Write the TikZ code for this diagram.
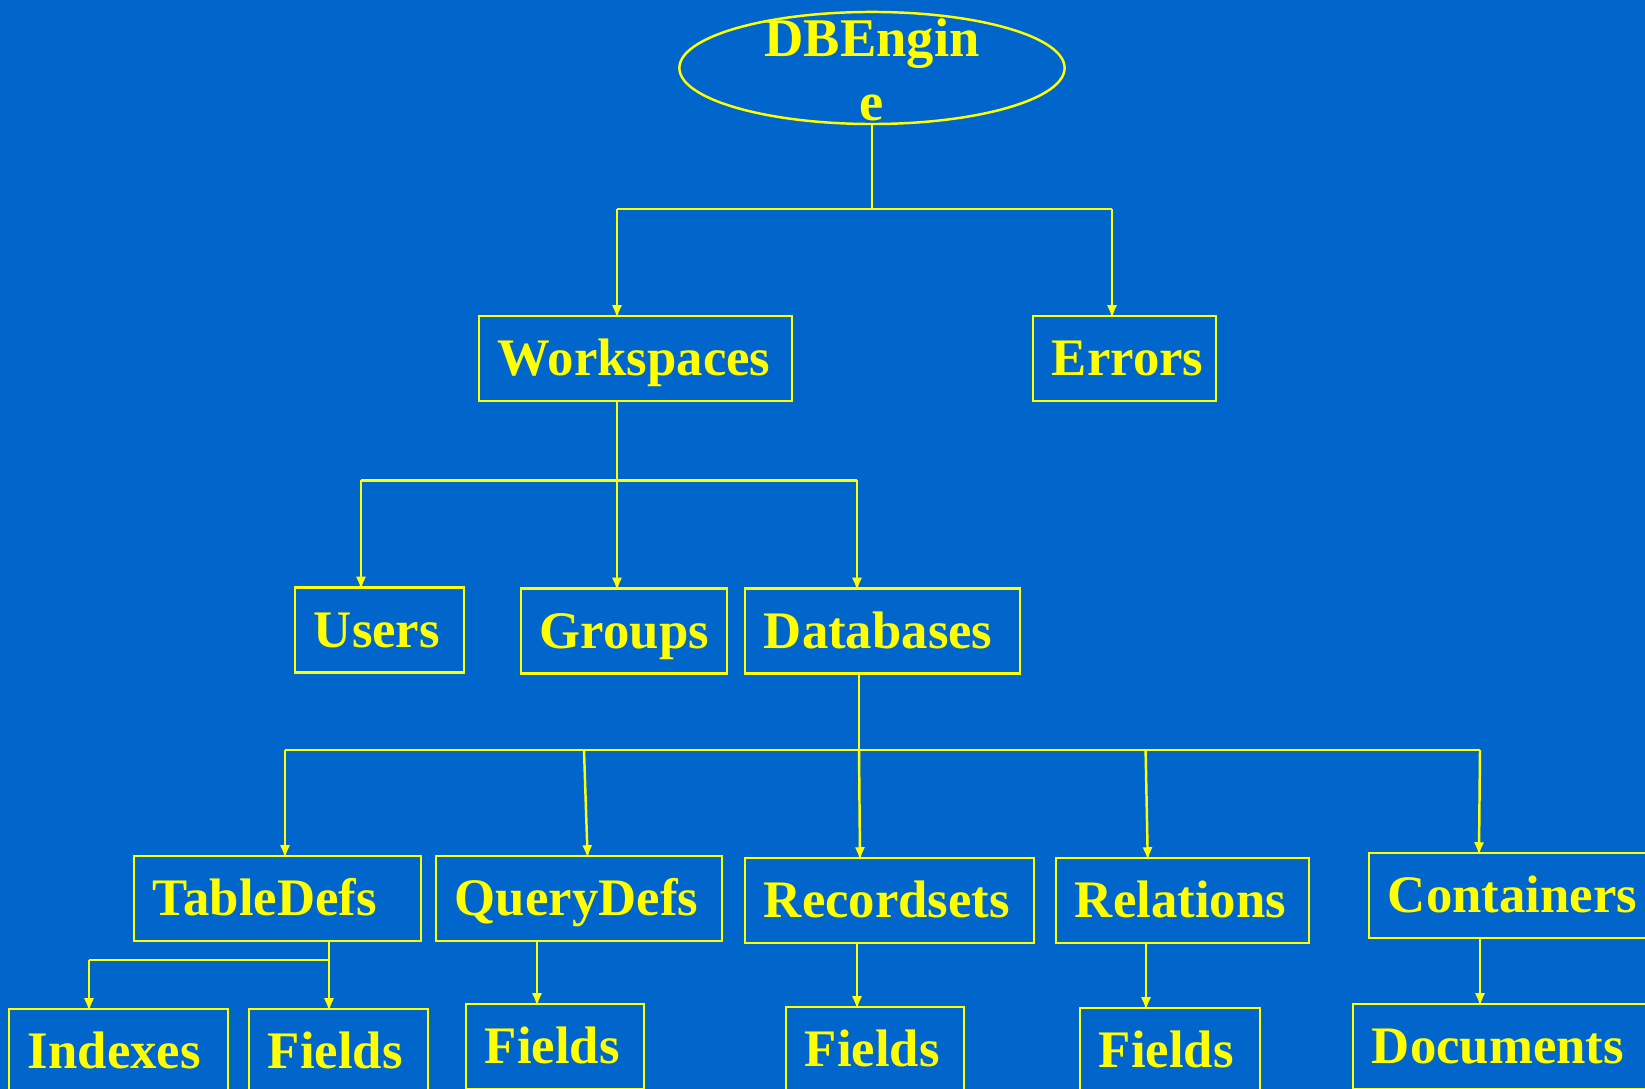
\documentclass[tikz,border=0pt]{standalone}
\usepackage{fontspec}
\setmainfont{Liberation Serif}
\usetikzlibrary{arrows.meta,shapes.geometric}
\definecolor{slideblue}{RGB}{0,102,204}
\definecolor{slideyellow}{RGB}{255,255,0}
\newcommand\nohyph{\hyphenpenalty 10000\relax}
\begin{document}
\begin{tikzpicture}[x=0.01cm,y=-0.01cm,
  line/.style={draw=slideyellow,line width=0.7pt},
  arr/.style={line,-{Latex[length=3.7pt,width=2.9pt]},shorten >=-1pt},
  lbl/.style={text=slideyellow,inner sep=0pt,font={\bfseries\fontsize{15}{18.2}\selectfont\nohyph}},
  box/.style={lbl,draw=slideyellow,line width=0.7pt,rectangle,minimum height=0.85cm,
    inner xsep=0.19cm,align=left,text height=9.9pt,text depth=0pt,text width=#1},
]
\clip (0,0) rectangle (1645,1089);
\fill[slideblue] (0,0) rectangle (1645,1089);

% root
\node[ellipse,draw=slideyellow,line width=0.7pt,minimum width=3.85cm,minimum height=1.12cm,inner sep=0pt] (dbe) at (872,68) {};
\node[lbl,align=center,font={\bfseries\fontsize{15.5}{18.2}\selectfont}] (dbetext) at (872,70) {DBEngin\\e};

% level 1
\node[box=2.75cm] (ws)  at (635.5,358.5) {Workspaces};
\node[box=1.45cm] (err) at (1124.5,358.5) {Errors};

% level 2
\node[box=1.31cm] (usr) at (379.5,630) {Users};
\node[box=1.68cm] (grp) at (624,631) {Groups};
\node[box=2.37cm] (dbs) at (882.5,631) {Databases};

% level 3
\node[box=2.49cm] (td)   at (277.5,898.5) {TableDefs};
\node[box=2.48cm] (qd)   at (579,898.5) {QueryDefs};
\node[box=2.51cm] (rec)  at (889.5,900.5) {Recordsets};
\node[box=2.15cm] (rel)  at (1182.5,900.5) {Relations};
\node[box=2.44cm] (cont) at (1510,895.5) {Containers};

% level 4
\node[box=1.81cm] (idx)  at (118.5,1051.5) {Indexes};
\node[box=1.41cm] (fld1) at (338.5,1051.5) {Fields};
\node[box=1.40cm] (fld2) at (555,1046.5) {Fields};
\node[box=1.40cm] (fld3) at (875,1049.5) {Fields};
\node[box=1.42cm] (fld4) at (1170,1050.5) {Fields};
\node[box=2.58cm] (doc)  at (1501,1046.5) {Documents};

% DBEngine -> Workspaces, Errors
\coordinate (b0)  at (872,209);
\coordinate (b0l) at (617,209);
\coordinate (b0r) at (1112,209);
\draw[line] (dbe.south) -- (b0);
\draw[line] (b0l) -- (b0r);
\draw[arr] (b0l) -- (b0l |- ws.north);
\draw[arr] (b0r) -- (b0r |- err.north);

% Workspaces -> Users, Groups, Databases
\coordinate (b1)  at (617,480.5);
\coordinate (b1l) at (361,480.5);
\coordinate (b1r) at (857,480.5);
\draw[arr] (b1 |- ws.south) -- (b1 |- grp.north);
\draw[line] (b1l) -- (b1r);
\draw[arr] (b1l) -- (b1l |- usr.north);
\draw[arr] (b1r) -- (b1r |- dbs.north);

% Databases -> collections
\coordinate (b2)  at (859,750);
\coordinate (b2a) at (285,750);
\coordinate (b2b) at (584,750);
\coordinate (b2d) at (1145.6,750);
\coordinate (b2e) at (1480,750);
\coordinate (xq)  at (587.5,0);
\coordinate (xr)  at (860,0);
\coordinate (xl)  at (1147.7,0);
\coordinate (xc)  at (1479,0);
\draw[line] (b2a) -- (b2e);
\draw[line] (b2 |- dbs.south) -- (b2);
\draw[arr] (b2a) -- (b2a |- td.north);
\draw[arr] (b2b) -- (xq |- qd.north);
\draw[arr] (b2) -- (xr |- rec.north);
\draw[arr] (b2d) -- (xl |- rel.north);
\draw[arr] (b2e) -- (xc |- cont.north);

% TableDefs -> Indexes, Fields
\coordinate (b3)  at (329,960);
\coordinate (b3l) at (89,960);
\draw[arr] (b3 |- td.south) -- (b3 |- fld1.north);
\draw[line] (b3l) -- (b3);
\draw[arr] (b3l) -- (b3l |- idx.north);

% single children
\coordinate (x2) at (537,0);
\coordinate (x3) at (857,0);
\coordinate (x4) at (1146,0);
\coordinate (x5) at (1480,0);
\draw[arr] (x2 |- qd.south) -- (x2 |- fld2.north);
\draw[arr] (x3 |- rec.south) -- (x3 |- fld3.north);
\draw[arr] (x4 |- rel.south) -- (x4 |- fld4.north);
\draw[arr] (x5 |- cont.south) -- (x5 |- doc.north);
\end{tikzpicture}
\end{document}
